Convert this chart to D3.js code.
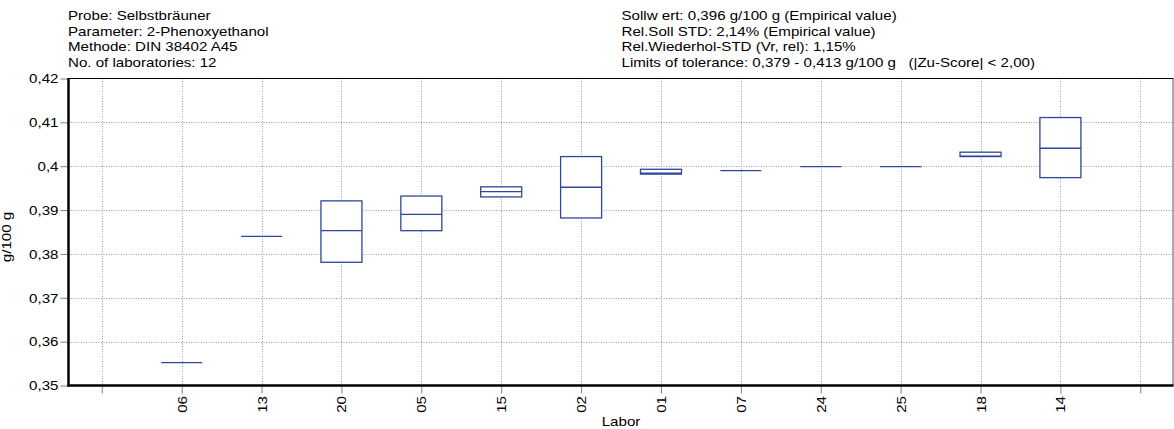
<!DOCTYPE html>
<html><head><meta charset="utf-8">
<script src="https://cdn.jsdelivr.net/npm/d3@7"></script>
<style>
body{margin:0;background:#fff}
svg{display:block}
text{font-family:Arial,"Liberation Sans",sans-serif;fill:#000;white-space:pre}
</style>
</head><body>
<svg id="c" width="1174" height="429"></svg>
<script>
const labs = ["06","13","20","05","15","02","01","07","24","25","18","14"];
const lowVals    = [0.3552,0.3840,0.3781,0.3853,0.3930,0.3882,0.3982,0.3990,0.3999,0.3999,0.4022,0.3974];
const medianVals = [0.3552,0.3840,0.3853,0.3890,0.3942,0.3952,0.3984,0.3990,0.3999,0.3999,0.4023,0.4041];
const highVals   = [0.3552,0.3840,0.3921,0.3932,0.3953,0.4022,0.3993,0.3990,0.3999,0.3999,0.4032,0.4111];
const yTicks = [0.35,0.36,0.37,0.38,0.39,0.40,0.41,0.42];
const infoLeft = ["Probe: Selbstbräuner","Parameter: 2-Phenoxyethanol","Methode: DIN 38402 A45","No. of laboratories: 12"];
const infoRight = ["Sollw ert: 0,396 g/100 g (Empirical value)","Rel.Soll STD: 2,14% (Empirical value)","Rel.Wiederhol-STD (Vr, rel): 1,15%","Limits of tolerance: 0,379 - 0,413 g/100 g   (|Zu-Score| < 2,00)"];
const yTitle = "g/100 g";
const xTitle = "Labor";

const svg = d3.select("#c");
const L = 68.5, R = 1173.5, T = 78.5, B = 385.5;
const SX = "scale(1.26,1)";
const boxColor = "#2f4699";
const gridColor = "#a0a0a0";

const x = d3.scaleLinear().domain([0, labs.length + 1]).range([101.8, 1140.3]);
const y = d3.scaleLinear().domain([0.35, 0.42]).range([B, T]);

// grid
const grid = svg.append("g");
grid.selectAll("line.h").data(yTicks.filter(v => v > 0.35 && v < 0.42)).join("line")
  .attr("x1", L).attr("x2", R).attr("y1", d => Math.round(y(d)) + 0.5).attr("y2", d => Math.round(y(d)) + 0.5)
  .attr("stroke", gridColor).attr("stroke-dasharray", "1,1.5");
grid.selectAll("line.v").data(d3.range(0, labs.length + 2)).join("line")
  .attr("x1", d => Math.round(x(d)) + 0.5).attr("x2", d => Math.round(x(d)) + 0.5).attr("y1", T).attr("y2", B)
  .attr("stroke", gridColor).attr("stroke-dasharray", "1,1.5");

// y axis
const yAxis = svg.append("g").attr("transform", `translate(${L},0)`)
  .call(d3.axisLeft(y).tickValues(yTicks).tickSize(8).tickSizeOuter(0)
    .tickFormat(d => String(+d.toFixed(2)).replace(".", ",")));
yAxis.select(".domain").remove();
yAxis.selectAll(".tick line").attr("stroke", "#808080");
yAxis.selectAll(".tick text").attr("x", null).attr("dy", null)
  .attr("transform", `translate(-10,4.3) ${SX}`)
  .attr("font-size", 12).attr("font-family", "Arial, 'Liberation Sans', sans-serif").attr("fill", "#000");

// x axis
const xAxis = svg.append("g").attr("transform", `translate(0,${B})`)
  .call(d3.axisBottom(x).tickValues(d3.range(0, labs.length + 2)).tickSize(8).tickSizeOuter(0)
    .tickFormat(i => labs[i - 1] || ""));
xAxis.select(".domain").remove();
xAxis.selectAll(".tick line").attr("stroke", "#808080");
xAxis.selectAll(".tick text").attr("y", null).attr("dy", null)
  .attr("text-anchor", "end")
  .attr("transform", `translate(4.5,10.5) rotate(-90) ${SX}`)
  .attr("font-size", 12).attr("font-family", "Arial, 'Liberation Sans', sans-serif").attr("fill", "#000");

// frame
svg.append("line").attr("x1", L).attr("x2", R).attr("y1", T).attr("y2", T).attr("stroke", "#000").attr("stroke-width", 1.2);
svg.append("line").attr("x1", R - 0.5).attr("x2", R - 0.5).attr("y1", T).attr("y2", B).attr("stroke", "#555").attr("stroke-width", 1);
svg.append("line").attr("x1", L).attr("x2", L).attr("y1", T - 0.5).attr("y2", B + 1).attr("stroke", "#000").attr("stroke-width", 2.5);
svg.append("line").attr("x1", L - 1).attr("x2", R).attr("y1", B).attr("y2", B).attr("stroke", "#000").attr("stroke-width", 2.5);

// boxes
const bw = 41;
const boxes = svg.append("g");
labs.forEach((lab, i) => {
  const cx = x(i + 1);
  const yl = y(lowVals[i]), yh = y(highVals[i]), ym = y(medianVals[i]);
  boxes.append("rect").attr("x", cx - bw / 2).attr("width", bw)
    .attr("y", yh).attr("height", Math.max(0, yl - yh))
    .attr("fill", "#fff").attr("stroke", boxColor).attr("stroke-width", 1.3);
  boxes.append("line").attr("x1", cx - bw / 2).attr("x2", cx + bw / 2).attr("y1", ym).attr("y2", ym)
    .attr("stroke", boxColor).attr("stroke-width", 1.3);
});

// header
const hdr = svg.append("g").attr("font-size", 12);
const baselines = [20, 35.5, 51, 66.5];
infoLeft.forEach((t, i) => hdr.append("text").attr("transform", `translate(68,${baselines[i]}) ${SX}`).text(t));
infoRight.forEach((t, i) => hdr.append("text").attr("transform", `translate(621.5,${baselines[i]}) ${SX}`).text(t));

// titles
svg.append("text").attr("font-size", 12).attr("text-anchor", "middle")
  .attr("transform", `translate(10.5,237) rotate(-90) ${SX}`).text(yTitle);
svg.append("text").attr("font-size", 12).attr("text-anchor", "middle")
  .attr("transform", `translate(621,426) ${SX}`).text(xTitle);
</script>
</body></html>
